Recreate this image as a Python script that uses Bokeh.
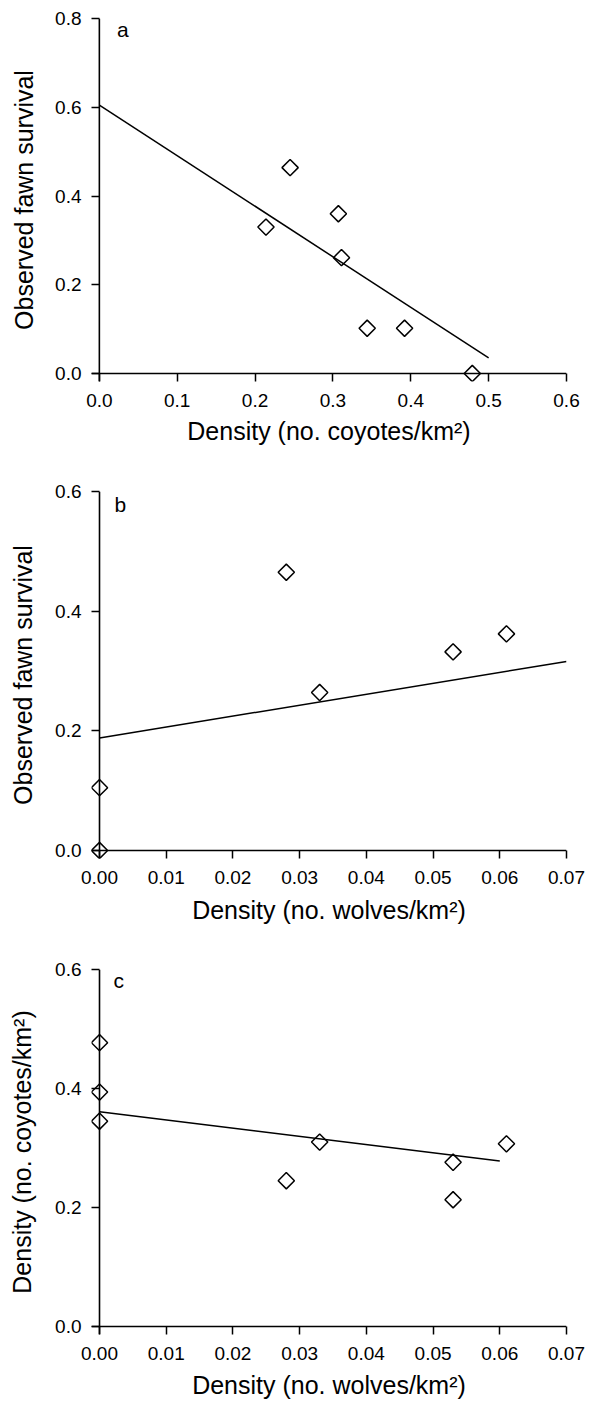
import numpy as np
from bokeh.plotting import figure
from bokeh.layouts import column
from bokeh.models import Range1d, FixedTicker, PrintfTickFormatter, Label, Span
from bokeh.embed import file_html
from bokeh.resources import INLINE

# ---------------- data ----------------
# panel a: fawn survival vs coyote density
coyote_a = [0.214, 0.245, 0.307, 0.311, 0.344, 0.392, 0.479]
survival_a = [0.330, 0.464, 0.360, 0.261, 0.102, 0.102, 0.0]
fit_a_x = [0.0, 0.50]
fit_a_y = [0.605, 0.035]

# panel b: fawn survival vs wolf density
wolves_b = [0.028, 0.033, 0.053, 0.061, 0.0, 0.0]
survival_b = [0.465, 0.264, 0.332, 0.362, 0.105, 0.0]
fit_b_x = [0.0, 0.07]
fit_b_y = [0.188, 0.316]

# panel c: coyote density vs wolf density
wolves_c = [0.0, 0.0, 0.0, 0.033, 0.028, 0.053, 0.053, 0.061]
coyote_c = [0.477, 0.394, 0.345, 0.310, 0.245, 0.276, 0.213, 0.307]
fit_c_x = [0.0, 0.060]
fit_c_y = [0.361, 0.278]

xticks_a = [0.0, 0.1, 0.2, 0.3, 0.4, 0.5, 0.6]
yticks_a = [0.0, 0.2, 0.4, 0.6, 0.8]
xticks_w = [0.0, 0.01, 0.02, 0.03, 0.04, 0.05, 0.06, 0.07]
yticks_w = [0.0, 0.2, 0.4, 0.6]

ylabel_surv = "Observed fawn survival"
xlabel_coy = "Density (no. coyotes/km²)"
xlabel_wolf = "Density (no. wolves/km²)"
ylabel_coy = "Density (no. coyotes/km²)"

FONT = "Liberation Sans"


def make_panel(xr, yr, height, borders, xticks, yticks, xfmt, yfmt,
               xlabel, ylabel, ylab_standoff, xlab_standoff, letter, letter_pos,
               xs, ys, fx, fy):
    left, right, top, bottom = borders
    p = figure(width=592, height=height, x_range=Range1d(*xr), y_range=Range1d(*yr),
               output_backend="svg", toolbar_location=None, title=None,
               min_border_left=left, min_border_right=right,
               min_border_top=top, min_border_bottom=bottom)
    p.outline_line_color = None
    p.grid.visible = False
    p.background_fill_color = "white"
    p.border_fill_color = "white"

    for ax in (p.xaxis[0], p.yaxis[0]):
        ax.axis_line_color = None
        ax.major_tick_line_color = "black"
        ax.major_tick_line_width = 1.5
        ax.major_tick_out = 0
        ax.major_tick_in = 8
        ax.minor_tick_line_color = None
        ax.major_label_text_font = FONT
        ax.major_label_text_font_size = "19px"
        ax.major_label_text_color = "black"
        ax.axis_label_text_font = FONT
        ax.axis_label_text_font_size = "25px"
        ax.axis_label_text_font_style = "normal"
        ax.axis_label_text_color = "black"

    xa, ya = p.xaxis[0], p.yaxis[0]
    xa.ticker = FixedTicker(ticks=xticks)
    ya.ticker = FixedTicker(ticks=yticks)
    xa.formatter = PrintfTickFormatter(format=xfmt)
    ya.formatter = PrintfTickFormatter(format=yfmt)
    xa.major_label_standoff = 12
    ya.major_label_standoff = 10
    xa.axis_label = xlabel
    ya.axis_label = ylabel
    xa.axis_label_standoff = xlab_standoff
    ya.axis_label_standoff = ylab_standoff

    # the real axis lines sit at x = 0 and y = 0
    p.add_layout(Span(location=0, dimension="height", line_color="black", line_width=1.6))
    p.add_layout(Span(location=0, dimension="width", line_color="black", line_width=1.6))

    p.line(fx, fy, line_color="black", line_width=1.5)
    p.scatter(xs, ys, marker="square", size=11.5, angle=np.pi / 4,
              line_color="black", line_width=1.5, fill_color=None)

    p.add_layout(Label(x=letter_pos[0], y=letter_pos[1],
                       text=letter, text_align="left", text_baseline="alphabetic",
                       text_font=FONT, text_font_size="21px", text_color="black"))
    return p


pa = make_panel((-0.0101, 0.6), (-0.018, 0.8), 460, (89, 19, 18, 79),
                xticks_a, yticks_a, "%.1f", "%.1f", xlabel_coy, ylabel_surv,
                14, 7, "a", (0.0227, 0.776), coyote_a, survival_a, fit_a_x, fit_a_y)

pb = make_panel((-0.0012, 0.07), (-0.0134, 0.6), 480, (90, 26, 31, 82),
                xticks_w, yticks_w, "%.2f", "%.1f", xlabel_wolf, ylabel_surv,
                15, 9, "b", (0.00224, 0.579), wolves_b, survival_b, fit_b_x, fit_b_y)

pc = make_panel((-0.0012, 0.07), (-0.01345, 0.6), 465, (91, 25, 29, 71),
                xticks_w, yticks_w, "%.2f", "%.1f", xlabel_wolf, ylabel_coy,
                16, 8, "c", (0.0021, 0.581), wolves_c, coyote_c, fit_c_x, fit_c_y)

layout = column(pa, pb, pc, spacing=0)
open("out.html", "w").write(file_html(layout, INLINE))
